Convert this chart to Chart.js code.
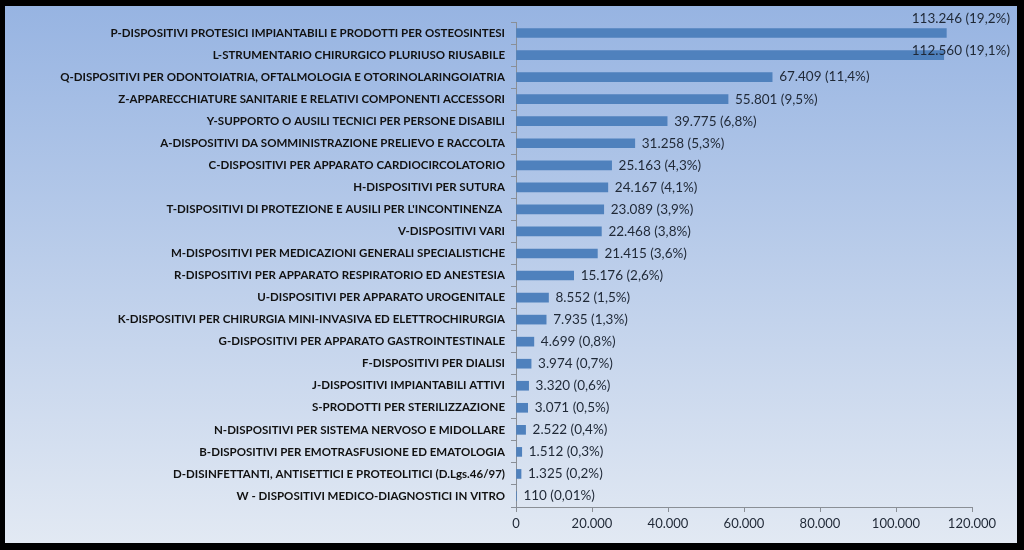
<!DOCTYPE html>
<html>
<head>
<meta charset="utf-8">
<script src="https://cdn.jsdelivr.net/npm/chart.js@4.4.1/dist/chart.umd.min.js"></script>
<style>
  html, body { margin: 0; padding: 0; background: #000; }
  #wrap { position: relative; width: 1024px; height: 550px; }
</style>
</head>
<body>
<div id="wrap"><canvas id="chart" width="1024" height="550"></canvas></div>
<script>
// Categories (top to bottom)
const categories = [
    'P-DISPOSITIVI PROTESICI IMPIANTABILI E PRODOTTI PER OSTEOSINTESI',
    'L-STRUMENTARIO CHIRURGICO PLURIUSO RIUSABILE',
    'Q-DISPOSITIVI PER ODONTOIATRIA, OFTALMOLOGIA E OTORINOLARINGOIATRIA',
    'Z-APPARECCHIATURE SANITARIE E RELATIVI COMPONENTI ACCESSORI',
    'Y-SUPPORTO O AUSILI TECNICI PER PERSONE DISABILI',
    'A-DISPOSITIVI DA SOMMINISTRAZIONE PRELIEVO E RACCOLTA',
    'C-DISPOSITIVI PER APPARATO CARDIOCIRCOLATORIO',
    'H-DISPOSITIVI PER SUTURA',
    "T-DISPOSITIVI DI PROTEZIONE E AUSILI PER L'INCONTINENZA ",
    'V-DISPOSITIVI VARI',
    'M-DISPOSITIVI PER MEDICAZIONI GENERALI SPECIALISTICHE',
    'R-DISPOSITIVI PER APPARATO RESPIRATORIO ED ANESTESIA',
    'U-DISPOSITIVI PER APPARATO UROGENITALE',
    'K-DISPOSITIVI PER CHIRURGIA MINI-INVASIVA ED ELETTROCHIRURGIA',
    'G-DISPOSITIVI PER APPARATO GASTROINTESTINALE',
    'F-DISPOSITIVI PER DIALISI',
    'J-DISPOSITIVI IMPIANTABILI ATTIVI',
    'S-PRODOTTI PER STERILIZZAZIONE',
    'N-DISPOSITIVI PER SISTEMA NERVOSO E MIDOLLARE',
    'B-DISPOSITIVI PER EMOTRASFUSIONE ED EMATOLOGIA',
    'D-DISINFETTANTI, ANTISETTICI E PROTEOLITICI (D.Lgs.46/97)',
    'W - DISPOSITIVI MEDICO-DIAGNOSTICI IN VITRO'
];

// Series values
const values = [113246, 112560, 67409, 55801, 39775, 31258, 25163, 24167, 23089, 22468,
    21415, 15176, 8552, 7935, 4699, 3974, 3320, 3071, 2522, 1512, 1325, 110];

// Percentage shares shown in the data labels
const shares = ['19,2%', '19,1%', '11,4%', '9,5%', '6,8%', '5,3%', '4,3%', '4,1%', '3,9%', '3,8%',
    '3,6%', '2,6%', '1,5%', '1,3%', '0,8%', '0,7%', '0,6%', '0,5%', '0,4%', '0,3%', '0,2%', '0,01%'];

// X axis ticks
const xMin = 0;
const xMax = 120000;
const xStep = 20000;

// Italian thousands separator
function fmt(n) {
    return String(n).replace(/\B(?=(\d{3})+(?!\d))/g, '.');
}

// Black frame + blue gradient panel behind everything
const panelBg = {
    id: 'panelBg',
    beforeDraw(chart) {
        const c = chart.ctx;
        c.save();
        c.fillStyle = '#000';
        c.fillRect(0, 0, chart.width, chart.height);
        const g = c.createLinearGradient(0, 6, 0, 543);
        g.addColorStop(0, '#97b4e2');
        g.addColorStop(1, '#e2e9f3');
        c.fillStyle = g;
        c.fillRect(5, 6, 1012, 537);
        c.restore();
    }
};

// Value labels "113.246 (19,2%)" at the end of each bar
const valueLabels = {
    id: 'valueLabels',
    afterDatasetsDraw(chart) {
        const c = chart.ctx;
        const meta = chart.getDatasetMeta(0);
        const rightLimit = 1010;
        c.save();
        c.font = '13.5px Lato, "Open Sans", sans-serif';
        c.fillStyle = '#1f2836';
        c.textBaseline = 'middle';
        meta.data.forEach((bar, i) => {
            const txt = fmt(values[i]) + ' (' + shares[i] + ')';
            const w = c.measureText(txt).width;
            let x = bar.x + 7;
            let y = bar.y;
            // labels that would run off the plot are pulled back in (like Excel does)
            if (x + w > rightLimit) {
                x = rightLimit - w;
                y = bar.y - (i === 0 ? 14 : 4);
            }
            c.textAlign = 'left';
            c.fillText(txt, x, y);
        });
        c.restore();
    }
};

const ctx = document.getElementById('chart').getContext('2d');

new Chart(ctx, {
    type: 'bar',
    data: {
        labels: categories,
        datasets: [{
            data: values,
            backgroundColor: '#4f81bd',
            borderWidth: 0,
            barThickness: 9
        }]
    },
    options: {
        indexAxis: 'y',
        responsive: false,
        animation: false,
        layout: {
            padding: { top: 22, right: 52, bottom: 0, left: 0 }
        },
        plugins: {
            legend: { display: false },
            tooltip: { enabled: false }
        },
        scales: {
            x: {
                min: xMin,
                max: xMax,
                ticks: {
                    stepSize: xStep,
                    color: '#1f2836',
                    font: { family: 'Lato, "Open Sans", sans-serif', size: 13 },
                    padding: 4,
                    maxRotation: 0,
                    callback: v => fmt(v)
                },
                grid: {
                    drawOnChartArea: false,
                    drawTicks: true,
                    tickLength: 5,
                    color: '#8a8f96'
                },
                border: { color: '#8a8f96' },
                afterFit: s => { s.height = 43; }
            },
            y: {
                ticks: {
                    color: '#111',
                    font: { family: 'Lato, "Open Sans", sans-serif', size: 11.5, weight: 'bold' },
                    padding: 6,
                    autoSkip: false
                },
                grid: {
                    offset: true,
                    drawOnChartArea: false,
                    drawTicks: true,
                    tickLength: 5,
                    color: '#8a8f96'
                },
                border: { color: '#8a8f96' },
                afterFit: s => { s.width = 516; }
            }
        }
    },
    plugins: [panelBg, valueLabels]
});
</script>
</body>
</html>
